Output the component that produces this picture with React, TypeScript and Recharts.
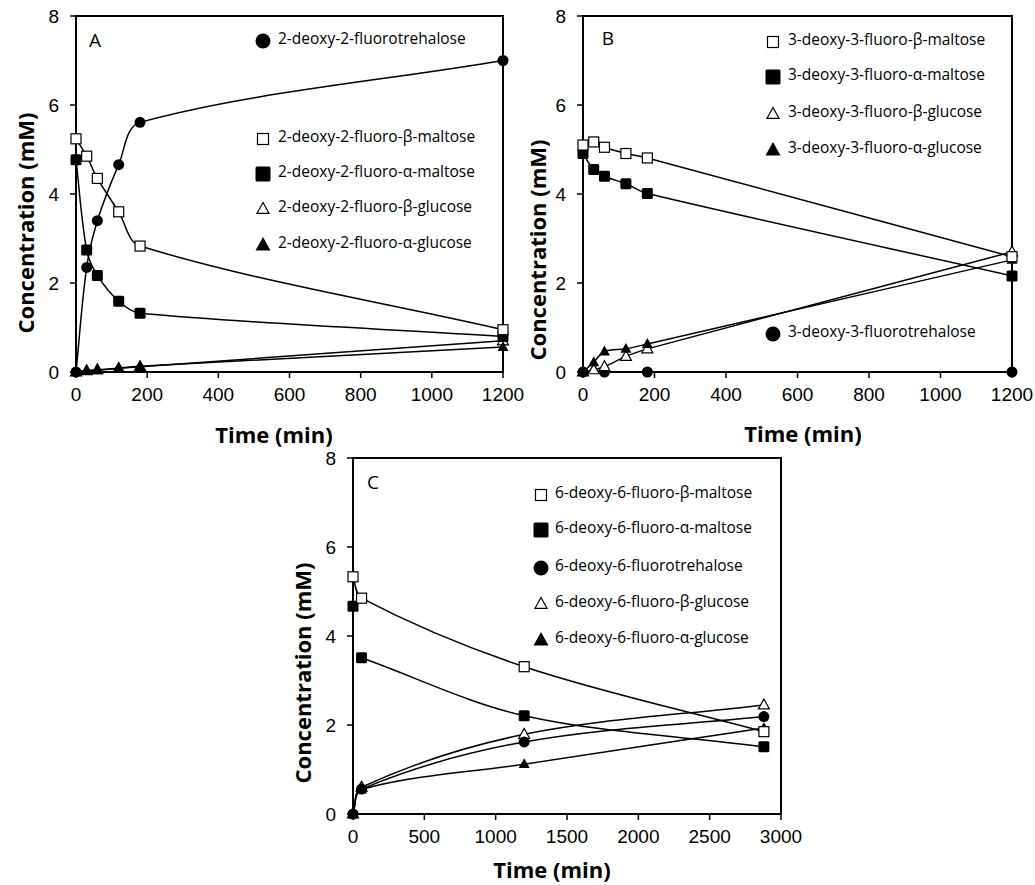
import React from 'react';
import { LineChart, Line, XAxis, YAxis, ReferenceArea } from 'recharts';

// Panel A: 2-deoxy-2-fluoro sugars
const A_TIME = [0, 30, 60, 120, 180, 1200];
const A_TREHALOSE = [0, 2.35, 3.4, 4.66, 5.61, 7.0];
const A_BETA_MALTOSE = [5.24, 4.85, 4.35, 3.6, 2.83, 0.95];
const A_ALPHA_MALTOSE = [4.77, 2.74, 2.17, 1.59, 1.32, 0.8];
const A_BETA_GLUCOSE = [0, 0.03, 0.05, 0.08, 0.12, 0.7];
const A_ALPHA_GLUCOSE = [0, 0.03, 0.04, 0.09, 0.13, 0.56];

// Panel B: 3-deoxy-3-fluoro sugars
const B_TIME = [0, 30, 60, 120, 180, 1200];
const B_BETA_MALTOSE = [5.1, 5.17, 5.05, 4.91, 4.81, 2.59];
const B_ALPHA_MALTOSE = [4.91, 4.55, 4.4, 4.23, 4.01, 2.16];
const B_BETA_GLUCOSE = [0, 0.05, 0.12, 0.35, 0.52, 2.7];
const B_ALPHA_GLUCOSE = [0, 0.22, 0.46, 0.52, 0.63, 2.52];
const B_TREHALOSE = [0, null, 0, null, 0, 0];

// Panel C: 6-deoxy-6-fluoro sugars
const C_TIME = [0, 60, 1200, 2880];
const C_BETA_MALTOSE = [5.33, 4.85, 3.31, 1.85];
const C_ALPHA_MALTOSE = [4.67, 3.51, 2.21, 1.51];
const C_TREHALOSE = [0, 0.56, 1.62, 2.19];
const C_BETA_GLUCOSE = [0, 0.6, 1.79, 2.45];
const C_ALPHA_GLUCOSE = [0, 0.55, 1.12, 1.93];

const Y_TICKS = [0, 2, 4, 6, 8];
const A_X_TICKS = [0, 200, 400, 600, 800, 1000, 1200];
const C_X_TICKS = [0, 500, 1000, 1500, 2000, 2500, 3000];

const A_NAMES = [
  '2-deoxy-2-fluorotrehalose',
  '2-deoxy-2-fluoro-β-maltose',
  '2-deoxy-2-fluoro-α-maltose',
  '2-deoxy-2-fluoro-β-glucose',
  '2-deoxy-2-fluoro-α-glucose',
];
const B_NAMES = [
  '3-deoxy-3-fluoro-β-maltose',
  '3-deoxy-3-fluoro-α-maltose',
  '3-deoxy-3-fluoro-β-glucose',
  '3-deoxy-3-fluoro-α-glucose',
  '3-deoxy-3-fluorotrehalose',
];
const C_NAMES = [
  '6-deoxy-6-fluoro-β-maltose',
  '6-deoxy-6-fluoro-α-maltose',
  '6-deoxy-6-fluorotrehalose',
  '6-deoxy-6-fluoro-β-glucose',
  '6-deoxy-6-fluoro-α-glucose',
];

type Shape = 'circle' | 'square' | 'triangle';

const dist = (a: number[], b: number[]) => Math.hypot(b[0] - a[0], b[1] - a[1]);

// spreadsheet-style smoothed line: bezier handles scaled by chord lengths so short segments don't loop
const smoothCurve = (context: any) => {
  let pts: number[][] = [];
  return {
    areaStart() {},
    areaEnd() {},
    lineStart() {
      pts = [];
    },
    point(x: number, y: number) {
      pts.push([+x, +y]);
    },
    lineEnd() {
      const n = pts.length;
      if (n === 0) return;
      context.moveTo(pts[0][0], pts[0][1]);
      if (n === 1) {
        context.lineTo(pts[0][0], pts[0][1]);
        return;
      }
      for (let i = 0; i < n - 1; i++) {
        const p0 = pts[Math.max(i - 1, 0)];
        const p1 = pts[i];
        const p2 = pts[i + 1];
        const p3 = pts[Math.min(i + 2, n - 1)];
        const d01 = dist(p0, p1);
        const d12 = dist(p1, p2);
        const d23 = dist(p2, p3);
        const k1 = d01 + d12 > 0 ? d12 / (3 * (d01 + d12)) : 0;
        const k2 = d12 + d23 > 0 ? d12 / (3 * (d12 + d23)) : 0;
        const c1x = p1[0] + (p2[0] - p0[0]) * k1;
        const c1y = p1[1] + (p2[1] - p0[1]) * k1;
        const c2x = p2[0] - (p3[0] - p1[0]) * k2;
        const c2y = p2[1] - (p3[1] - p1[1]) * k2;
        context.bezierCurveTo(c1x, c1y, c2x, c2y, p2[0], p2[1]);
      }
    },
  };
};

const Marker = ({ cx, cy, shape, filled, size }: { cx: number; cy: number; shape: Shape; filled: boolean; size: number }) => {
  const fill = filled ? '#000' : '#fff';
  const sw = filled ? 0 : 1.2;
  if (shape === 'circle') {
    return <circle cx={cx} cy={cy} r={size / 2} fill={fill} stroke="#000" strokeWidth={sw} />;
  }
  if (shape === 'square') {
    const s = filled ? size : size - 1;
    return <rect x={cx - s / 2} y={cy - s / 2} width={s} height={s} rx={filled ? 1.5 : 0} fill={fill} stroke="#000" strokeWidth={sw} />;
  }
  const h = size * 0.9;
  const pts = `${cx},${cy - h * 0.6} ${cx - size / 2},${cy + h * 0.4} ${cx + size / 2},${cy + h * 0.4}`;
  return <polygon points={pts} fill={fill} stroke="#000" strokeWidth={filled ? 0 : 1.2} strokeLinejoin="miter" />;
};

const makeDot = (shape: Shape, filled: boolean) => (p: any) => {
  const { cx, cy, index } = p;
  if (cx == null || cy == null || p.value == null) return <g key={`d${index}`} />;
  return <Marker key={`d${index}`} cx={cx} cy={cy} shape={shape} filled={filled} size={11} />;
};

interface SeriesDef {
  key: string;
  shape: Shape;
  filled: boolean;
  line?: boolean;
}

interface PanelProps {
  width: number;
  height: number;
  margin: { top: number; right: number; bottom: number; left: number };
  yAxisWidth: number;
  xAxisHeight: number;
  data: any[];
  xMax: number;
  xTicks: number[];
  series: SeriesDef[];
}

const tickFont = { fill: '#000', fontSize: 19, fontFamily: '"Liberation Sans", Arial, sans-serif' };

const Panel = ({ width, height, margin, yAxisWidth, xAxisHeight, data, xMax, xTicks, series }: PanelProps) => (
  <LineChart width={width} height={height} data={data} margin={margin}>
    <ReferenceArea x1={0} x2={xMax} y1={0} y2={8} fill="none" stroke="#000" strokeWidth={2} ifOverflow="visible" />
    <XAxis
      dataKey="t"
      type="number"
      domain={[0, xMax]}
      ticks={xTicks}
      height={xAxisHeight}
      axisLine={{ stroke: '#000', strokeWidth: 2 }}
      tickLine={{ stroke: '#000', strokeWidth: 1.5 }}
      tickSize={6}
      tickMargin={10}
      tick={tickFont}
      interval={0}
    />
    <YAxis
      type="number"
      domain={[0, 8]}
      ticks={Y_TICKS}
      width={yAxisWidth}
      axisLine={{ stroke: '#000', strokeWidth: 2 }}
      tickLine={{ stroke: '#000', strokeWidth: 1.5 }}
      tickSize={6}
      tickMargin={11}
      tick={tickFont}
      interval={0}
    />
    {series.map((s) => (
      <Line
        key={s.key}
        dataKey={s.key}
        type={smoothCurve as any}
        stroke={s.line === false ? 'none' : '#000'}
        strokeWidth={1.5}
        dot={makeDot(s.shape, s.filled)}
        activeDot={false}
        connectNulls
        isAnimationActive={false}
      />
    ))}
  </LineChart>
);

const rowsA = A_TIME.map((t, i) => ({
  t,
  tre: A_TREHALOSE[i],
  bMal: A_BETA_MALTOSE[i],
  aMal: A_ALPHA_MALTOSE[i],
  bGlc: A_BETA_GLUCOSE[i],
  aGlc: A_ALPHA_GLUCOSE[i],
}));

const rowsB = B_TIME.map((t, i) => ({
  t,
  tre: B_TREHALOSE[i],
  bMal: B_BETA_MALTOSE[i],
  aMal: B_ALPHA_MALTOSE[i],
  bGlc: B_BETA_GLUCOSE[i],
  aGlc: B_ALPHA_GLUCOSE[i],
}));

// the alpha-maltose curve in C starts from the second point; the t=0 value is a lone marker
const rowsC = C_TIME.map((t, i) => ({
  t,
  tre: C_TREHALOSE[i],
  bMal: C_BETA_MALTOSE[i],
  aMal: i === 0 ? null : C_ALPHA_MALTOSE[i],
  aMal0: i === 0 ? C_ALPHA_MALTOSE[i] : null,
  bGlc: C_BETA_GLUCOSE[i],
  aGlc: C_ALPHA_GLUCOSE[i],
}));

const seriesA: SeriesDef[] = [
  { key: 'bGlc', shape: 'triangle', filled: false },
  { key: 'aGlc', shape: 'triangle', filled: true },
  { key: 'aMal', shape: 'square', filled: true },
  { key: 'bMal', shape: 'square', filled: false },
  { key: 'tre', shape: 'circle', filled: true },
];

const seriesB: SeriesDef[] = [
  { key: 'tre', shape: 'circle', filled: true },
  { key: 'bGlc', shape: 'triangle', filled: false },
  { key: 'aGlc', shape: 'triangle', filled: true },
  { key: 'aMal', shape: 'square', filled: true },
  { key: 'bMal', shape: 'square', filled: false },
];

const seriesC: SeriesDef[] = [
  { key: 'bGlc', shape: 'triangle', filled: false },
  { key: 'tre', shape: 'circle', filled: true },
  { key: 'aGlc', shape: 'triangle', filled: true },
  { key: 'aMal', shape: 'square', filled: true },
  { key: 'aMal0', shape: 'square', filled: true, line: false },
  { key: 'bMal', shape: 'square', filled: false },
];

type LegendItem = { name: string; shape: Shape; filled: boolean; y: number };

const LegendBlock = ({ markerX, textX, items }: { markerX: number; textX: number; items: LegendItem[] }) => (
  <>
    {items.map((it) => {
      const size = it.shape === 'circle' ? 15 : it.filled ? 15 : 12;
      return (
        <React.Fragment key={it.name}>
          <svg
            width={20}
            height={20}
            style={{ position: 'absolute', left: markerX - 10, top: it.y - 10, overflow: 'visible' }}
          >
            <Marker cx={10} cy={10} shape={it.shape} filled={it.filled} size={size} />
          </svg>
          <span
            style={{
              position: 'absolute',
              left: textX,
              top: it.y - 2,
              transform: 'translateY(-50%)',
              fontSize: 15.5,
              lineHeight: 1,
              whiteSpace: 'nowrap',
              color: '#000',
            }}
          >
            {it.name}
          </span>
        </React.Fragment>
      );
    })}
  </>
);

const titleStyle: React.CSSProperties = {
  position: 'absolute',
  fontWeight: 700,
  fontSize: 22,
  lineHeight: 1,
  whiteSpace: 'nowrap',
  color: '#000',
};

const XTitle = ({ cx, cy }: { cx: number; cy: number }) => (
  <div style={{ ...titleStyle, left: cx, top: cy, transform: 'translate(-50%, -50%)' }}>Time (min)</div>
);

const YTitle = ({ cx, cy }: { cx: number; cy: number }) => (
  <div style={{ ...titleStyle, left: cx, top: cy, transform: 'translate(-50%, -50%) rotate(-90deg)' }}>
    Concentration (mM)
  </div>
);

const PanelLetter = ({ cx, cy, text }: { cx: number; cy: number; text: string }) => (
  <div
    style={{
      position: 'absolute',
      left: cx,
      top: cy,
      transform: 'translate(-50%, -50%)',
      fontSize: 19,
      lineHeight: 1,
      color: '#000',
    }}
  >
    {text}
  </div>
);

export default function App() {
  return (
    <div
      style={{
        position: 'absolute',
        left: 0,
        top: 0,
        width: 1035,
        height: 885,
        background: '#fff',
        fontFamily: '"Open Sans", "Noto Sans", sans-serif',
        overflow: 'hidden',
      }}
    >
      <div style={{ position: 'absolute', left: 0, top: 0 }}>
        <Panel
          width={540}
          height={450}
          margin={{ top: 16, right: 37, bottom: 0, left: 0 }}
          yAxisWidth={76}
          xAxisHeight={78}
          data={rowsA}
          xMax={1200}
          xTicks={A_X_TICKS}
          series={seriesA}
        />
      </div>
      <div style={{ position: 'absolute', left: 500, top: 0 }}>
        <Panel
          width={535}
          height={450}
          margin={{ top: 16, right: 23, bottom: 0, left: 0 }}
          yAxisWidth={83}
          xAxisHeight={78}
          data={rowsB}
          xMax={1200}
          xTicks={A_X_TICKS}
          series={seriesB}
        />
      </div>
      <div style={{ position: 'absolute', left: 270, top: 440 }}>
        <Panel
          width={540}
          height={445}
          margin={{ top: 18, right: 29, bottom: 0, left: 0 }}
          yAxisWidth={83}
          xAxisHeight={71}
          data={rowsC}
          xMax={3000}
          xTicks={C_X_TICKS}
          series={seriesC}
        />
      </div>

      <YTitle cx={25} cy={223} />
      <XTitle cx={274} cy={434} />
      <YTitle cx={537} cy={250} />
      <XTitle cx={803} cy={433} />
      <YTitle cx={302} cy={673} />
      <XTitle cx={552} cy={869} />

      <PanelLetter cx={95} cy={40} text="A" />
      <PanelLetter cx={608} cy={38} text="B" />
      <PanelLetter cx={373} cy={482} text="C" />

      <LegendBlock
        markerX={263}
        textX={278}
        items={[
          { name: A_NAMES[0], shape: 'circle', filled: true, y: 41 },
          { name: A_NAMES[1], shape: 'square', filled: false, y: 139 },
          { name: A_NAMES[2], shape: 'square', filled: true, y: 174 },
          { name: A_NAMES[3], shape: 'triangle', filled: false, y: 209 },
          { name: A_NAMES[4], shape: 'triangle', filled: true, y: 245 },
        ]}
      />
      <LegendBlock
        markerX={773}
        textX={788}
        items={[
          { name: B_NAMES[0], shape: 'square', filled: false, y: 42 },
          { name: B_NAMES[1], shape: 'square', filled: true, y: 77 },
          { name: B_NAMES[2], shape: 'triangle', filled: false, y: 114 },
          { name: B_NAMES[3], shape: 'triangle', filled: true, y: 150 },
          { name: B_NAMES[4], shape: 'circle', filled: true, y: 334 },
        ]}
      />
      <LegendBlock
        markerX={541}
        textX={555}
        items={[
          { name: C_NAMES[0], shape: 'square', filled: false, y: 495 },
          { name: C_NAMES[1], shape: 'square', filled: true, y: 530 },
          { name: C_NAMES[2], shape: 'circle', filled: true, y: 568 },
          { name: C_NAMES[3], shape: 'triangle', filled: false, y: 604 },
          { name: C_NAMES[4], shape: 'triangle', filled: true, y: 640 },
        ]}
      />
    </div>
  );
}
